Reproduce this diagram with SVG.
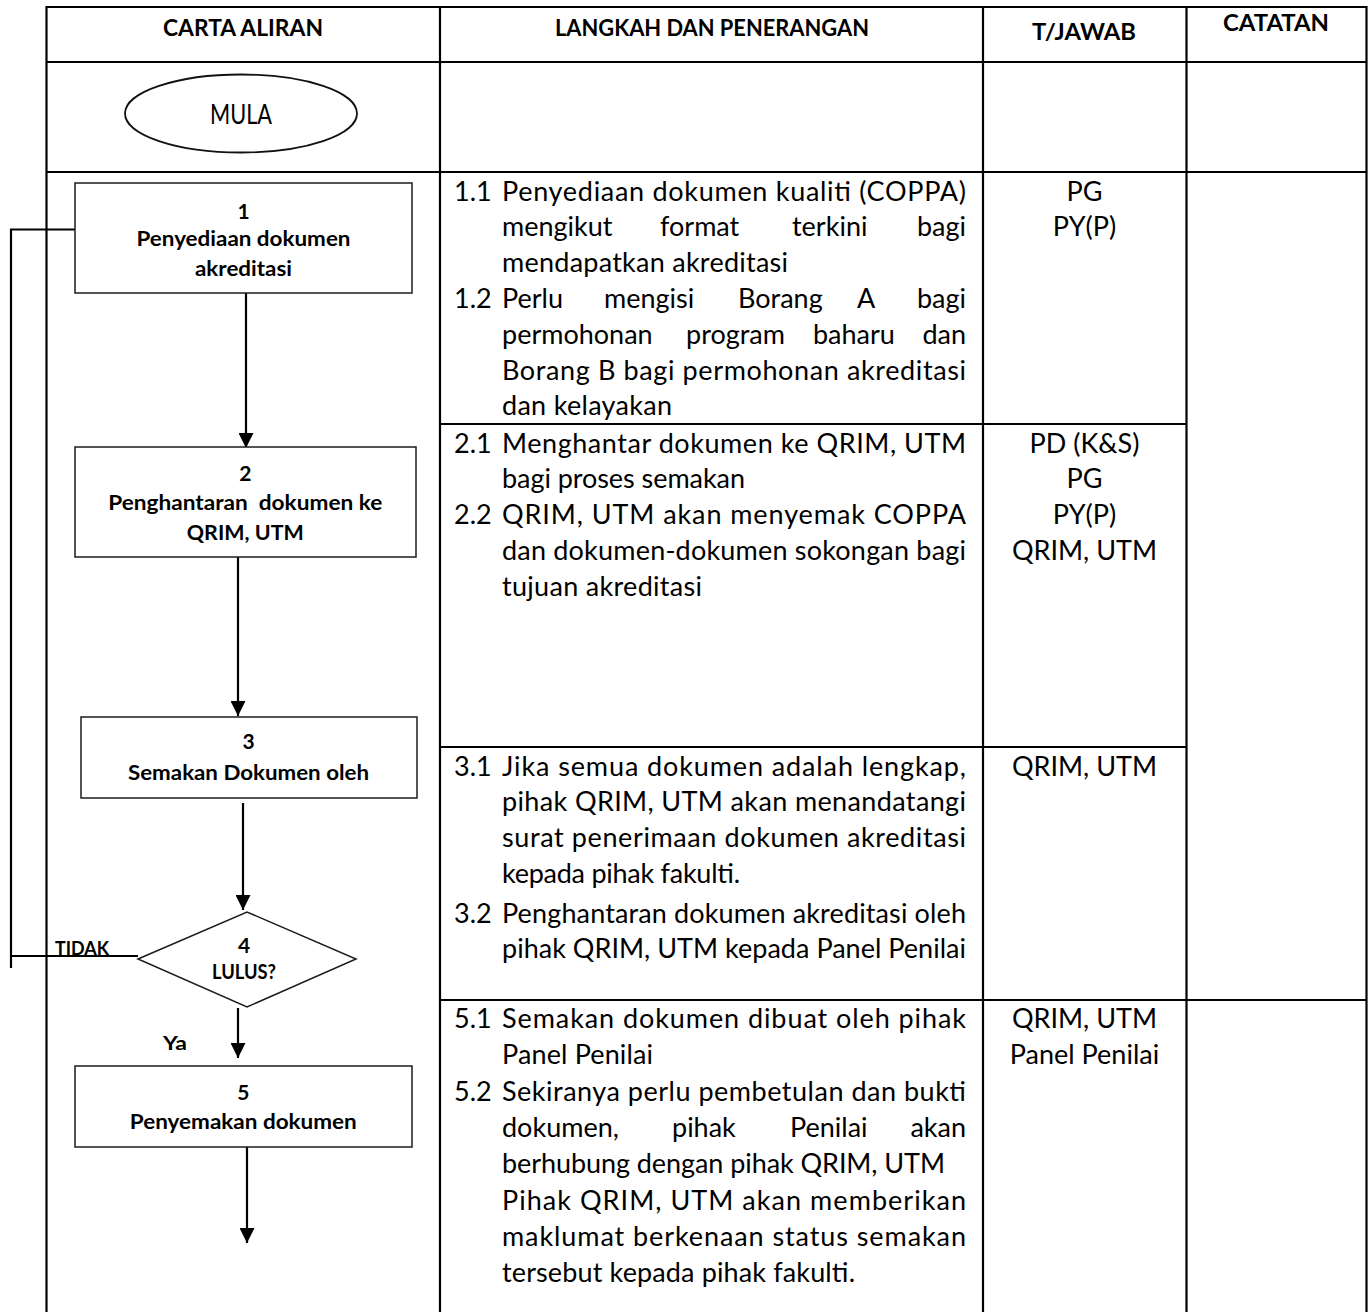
<svg xmlns="http://www.w3.org/2000/svg" width="1372" height="1312" viewBox="0 0 1372 1312">
  <style>
    .grid { stroke: #000; stroke-width: 2.2; fill: none; }
    .box { fill: #fff; stroke: #1c1c1c; stroke-width: 1.5; }
    .wire { stroke: #000; stroke-width: 2.2; fill: none; }
    .hd { font-family: Lato, "Liberation Sans", sans-serif; font-weight: 700; font-size: 22.5px; fill: #000; text-anchor: middle; }
    .nd { font-family: Lato, "Liberation Sans", sans-serif; font-weight: 700; font-size: 21px; fill: #000; text-anchor: middle; }
    .sm { font-family: Lato, "Liberation Sans", sans-serif; font-weight: 700; font-size: 18.5px; fill: #000; }
    .tx { font-family: Lato, "Liberation Sans", sans-serif; font-size: 27px; fill: #000; }
    .tj { font-family: Lato, "Liberation Sans", sans-serif; font-size: 27px; fill: #000; text-anchor: middle; }
    .end { text-anchor: end; }
  </style>
  <defs>
    <marker id="arrow" markerUnits="userSpaceOnUse" markerWidth="15" markerHeight="15" viewBox="0 0 15 15" refX="15" refY="7.5" orient="auto">
      <path d="M0,0 L15,7.5 L0,15 Z" fill="#000"/>
    </marker>
  </defs>

  <!-- table frame -->
  <g id="table" class="grid">
    <line x1="46.5" y1="7" x2="1366.5" y2="7"/>
    <line x1="46.5" y1="62" x2="1366.5" y2="62"/>
    <line x1="46.5" y1="172" x2="1366.5" y2="172"/>
    <line x1="440" y1="424" x2="1186.5" y2="424"/>
    <line x1="440" y1="747" x2="1186.5" y2="747"/>
    <line x1="440" y1="1000" x2="1366.5" y2="1000"/>
    <line x1="46.5" y1="6" x2="46.5" y2="1312"/>
    <line x1="440" y1="6" x2="440" y2="1312"/>
    <line x1="983" y1="6" x2="983" y2="1312"/>
    <line x1="1186.5" y1="6" x2="1186.5" y2="1312"/>
    <line x1="1366.5" y1="6" x2="1366.5" y2="1312"/>
  </g>

  <g id="headers">
    <text class="hd" x="243" y="36" textLength="160" lengthAdjust="spacingAndGlyphs">CARTA ALIRAN</text>
    <text class="hd" x="712" y="36" textLength="314" lengthAdjust="spacingAndGlyphs">LANGKAH DAN PENERANGAN</text>
    <text class="hd" x="1084" y="39.5" textLength="104" lengthAdjust="spacingAndGlyphs">T/JAWAB</text>
    <text class="hd" x="1276" y="31" textLength="106" lengthAdjust="spacingAndGlyphs">CATATAN</text>
  </g>

  <!-- flowchart connectors -->
  <g id="connectors">
    <line class="wire" x1="246" y1="293" x2="246" y2="448" marker-end="url(#arrow)"/>
    <line class="wire" x1="238" y1="557" x2="238" y2="716" marker-end="url(#arrow)"/>
    <line class="wire" x1="243" y1="803" x2="243" y2="910" marker-end="url(#arrow)"/>
    <line class="wire" x1="238" y1="1008" x2="238" y2="1058" marker-end="url(#arrow)"/>
    <line class="wire" x1="247" y1="1147" x2="247" y2="1243" marker-end="url(#arrow)"/>
    <path class="wire" d="M138 956 H11"/>
    <path class="wire" d="M11 968 V229.5 H75"/>
    <text class="sm" x="55" y="955" textLength="54" lengthAdjust="spacingAndGlyphs">TIDAK</text>
    <text class="sm" x="163" y="1050" font-size="19.5" textLength="24" lengthAdjust="spacingAndGlyphs">Ya</text>
  </g>

  <g id="mula">
    <ellipse cx="241" cy="113.5" rx="116" ry="39" fill="#fff" stroke="#111" stroke-width="1.8"/>
    <text class="tj" x="241" y="123.5" font-size="25" textLength="62" lengthAdjust="spacingAndGlyphs">MULA</text>
  </g>

  <g id="step1">
    <rect class="box" x="75" y="183" width="337" height="110"/>
    <text class="nd" x="243.5" y="218.5">1</text>
    <text class="nd" x="243.5" y="246" textLength="214" lengthAdjust="spacingAndGlyphs">Penyediaan dokumen</text>
    <text class="nd" x="243.5" y="276" textLength="97" lengthAdjust="spacingAndGlyphs">akreditasi</text>
  </g>

  <g id="step2">
    <rect class="box" x="75" y="447" width="341" height="110"/>
    <text class="nd" x="245.3" y="481">2</text>
    <text class="nd" x="245.3" y="510" textLength="274" lengthAdjust="spacingAndGlyphs" xml:space="preserve">Penghantaran  dokumen ke</text>
    <text class="nd" x="245.3" y="540" textLength="117" lengthAdjust="spacingAndGlyphs">QRIM, UTM</text>
  </g>

  <g id="step3">
    <rect class="box" x="81" y="717" width="336" height="81"/>
    <text class="nd" x="248.5" y="749">3</text>
    <text class="nd" x="248.5" y="780" textLength="241" lengthAdjust="spacingAndGlyphs">Semakan Dokumen oleh</text>
  </g>

  <g id="step4">
    <polygon class="box" points="138,959 247,912 356,959 247,1007"/>
    <text class="nd" x="244" y="953" font-size="18.5">4</text>
    <text class="nd" x="244" y="979" font-size="17.5" textLength="64" lengthAdjust="spacingAndGlyphs">LULUS?</text>
  </g>

  <g id="step5">
    <rect class="box" x="75" y="1066" width="337" height="81"/>
    <text class="nd" x="243.3" y="1100">5</text>
    <text class="nd" x="243.3" y="1129" textLength="227" lengthAdjust="spacingAndGlyphs">Penyemakan dokumen</text>
  </g>

  <!-- step descriptions -->
  <g id="desc1">
    <text class="tx" x="454" y="200.5">1.1</text>
    <text class="tx" x="502" y="200.5" textLength="464" lengthAdjust="spacing">Penyediaan dokumen kualiti (COPPA)</text>
    <text class="tx" x="502" y="236.3">mengikut</text>
    <text class="tx" x="660" y="236.3">format</text>
    <text class="tx" x="792" y="236.3">terkini</text>
    <text class="tx end" x="966" y="236.3">bagi</text>
    <text class="tx" x="502" y="272.1" textLength="286" lengthAdjust="spacing">mendapatkan akreditasi</text>
    <text class="tx" x="454" y="307.9">1.2</text>
    <text class="tx" x="502" y="307.9">Perlu</text>
    <text class="tx" x="604" y="307.9">mengisi</text>
    <text class="tx" x="738" y="307.9">Borang</text>
    <text class="tx" x="857" y="307.9">A</text>
    <text class="tx end" x="966" y="307.9">bagi</text>
    <text class="tx" x="502" y="343.7">permohonan</text>
    <text class="tx" x="686" y="343.7">program</text>
    <text class="tx" x="813" y="343.7">baharu</text>
    <text class="tx end" x="966" y="343.7">dan</text>
    <text class="tx" x="502" y="379.5" textLength="464" lengthAdjust="spacing">Borang B bagi permohonan akreditasi</text>
    <text class="tx" x="502" y="415.3" textLength="170" lengthAdjust="spacing">dan kelayakan</text>
  </g>

  <g id="desc2">
    <text class="tx" x="454" y="452.5">2.1</text>
    <text class="tx" x="502" y="452.5" textLength="464" lengthAdjust="spacing">Menghantar dokumen ke QRIM, UTM</text>
    <text class="tx" x="502" y="488.3" textLength="243" lengthAdjust="spacing">bagi proses semakan</text>
    <text class="tx" x="454" y="524.1">2.2</text>
    <text class="tx" x="502" y="524.1" textLength="464" lengthAdjust="spacing">QRIM, UTM akan menyemak COPPA</text>
    <text class="tx" x="502" y="559.9" textLength="464" lengthAdjust="spacing">dan dokumen-dokumen sokongan bagi</text>
    <text class="tx" x="502" y="595.7" textLength="200" lengthAdjust="spacing">tujuan akreditasi</text>
  </g>

  <g id="desc3">
    <text class="tx" x="454" y="775.5">3.1</text>
    <text class="tx" x="502" y="775.5" textLength="464" lengthAdjust="spacing">Jika semua dokumen adalah lengkap,</text>
    <text class="tx" x="502" y="811.3" textLength="464" lengthAdjust="spacing">pihak QRIM, UTM akan menandatangi</text>
    <text class="tx" x="502" y="847.1" textLength="464" lengthAdjust="spacing">surat penerimaan dokumen akreditasi</text>
    <text class="tx" x="502" y="882.9" textLength="238" lengthAdjust="spacing">kepada pihak fakulti.</text>
    <text class="tx" x="454" y="922.5">3.2</text>
    <text class="tx" x="502" y="922.5" textLength="464" lengthAdjust="spacing">Penghantaran dokumen akreditasi oleh</text>
    <text class="tx" x="502" y="958.3" textLength="464" lengthAdjust="spacing">pihak QRIM, UTM kepada Panel Penilai</text>
  </g>

  <g id="desc5">
    <text class="tx" x="454" y="1028">5.1</text>
    <text class="tx" x="502" y="1028" textLength="464" lengthAdjust="spacing">Semakan dokumen dibuat oleh pihak</text>
    <text class="tx" x="502" y="1064.3" textLength="151" lengthAdjust="spacing">Panel Penilai</text>
    <text class="tx" x="454" y="1100.6">5.2</text>
    <text class="tx" x="502" y="1100.6" textLength="464" lengthAdjust="spacing">Sekiranya perlu pembetulan dan bukti</text>
    <text class="tx" x="502" y="1136.9">dokumen,</text>
    <text class="tx" x="672" y="1136.9">pihak</text>
    <text class="tx" x="790" y="1136.9">Penilai</text>
    <text class="tx end" x="966" y="1136.9">akan</text>
    <text class="tx" x="502" y="1173.2" textLength="443" lengthAdjust="spacing">berhubung dengan pihak QRIM, UTM</text>
    <text class="tx" x="502" y="1209.5" textLength="464" lengthAdjust="spacing">Pihak QRIM, UTM akan memberikan</text>
    <text class="tx" x="502" y="1245.8" textLength="464" lengthAdjust="spacing">maklumat berkenaan status semakan</text>
    <text class="tx" x="502" y="1282.1" textLength="353" lengthAdjust="spacing">tersebut kepada pihak fakulti.</text>
  </g>

  <!-- responsibility column -->
  <g id="tjawab">
    <text class="tj" x="1084.5" y="200.5">PG</text>
    <text class="tj" x="1084.5" y="236.3">PY(P)</text>
    <text class="tj" x="1084.5" y="452.5">PD (K&amp;S)</text>
    <text class="tj" x="1084.5" y="488.3">PG</text>
    <text class="tj" x="1084.5" y="524.1">PY(P)</text>
    <text class="tj" x="1084.5" y="559.9">QRIM, UTM</text>
    <text class="tj" x="1084.5" y="775.5">QRIM, UTM</text>
    <text class="tj" x="1084.5" y="1028">QRIM, UTM</text>
    <text class="tj" x="1084.5" y="1064.3">Panel Penilai</text>
  </g>
</svg>
